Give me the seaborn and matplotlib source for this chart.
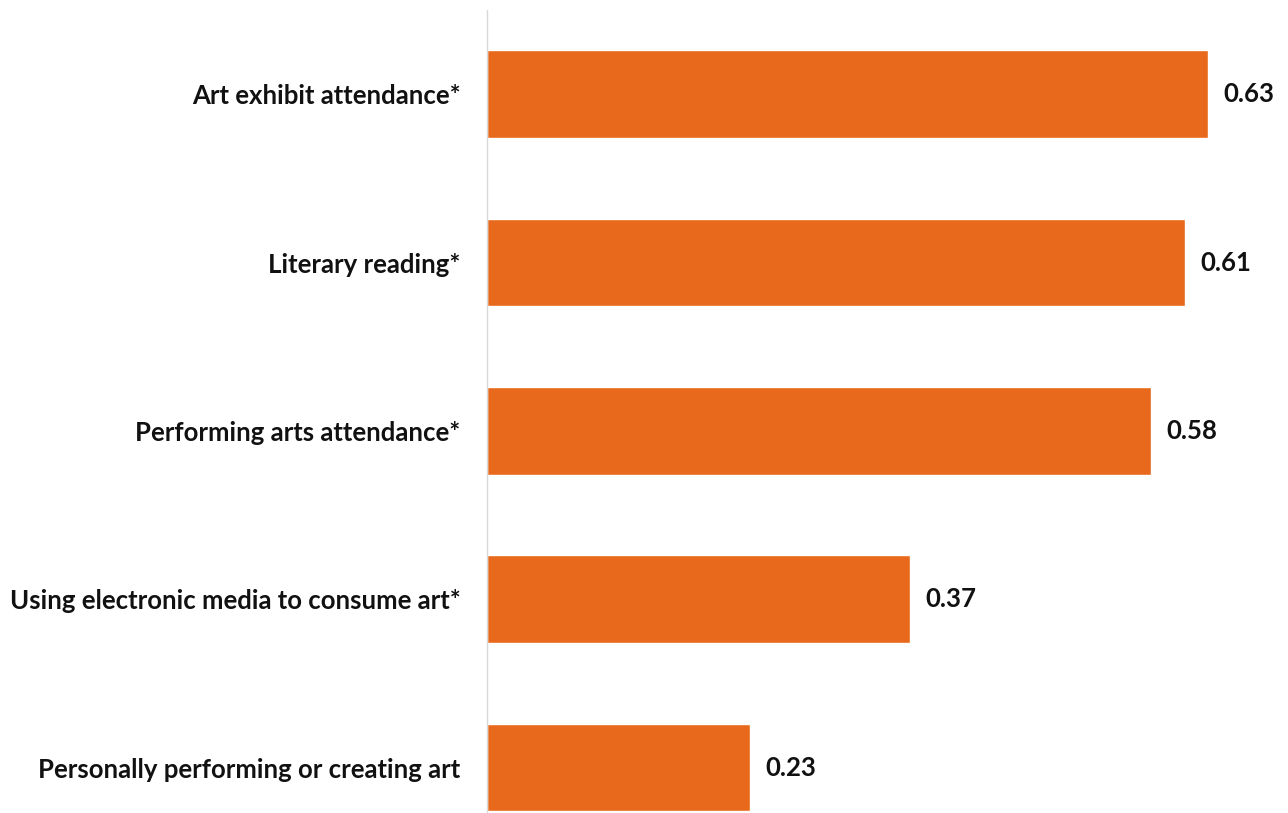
import matplotlib
matplotlib.use("Agg")
import matplotlib.pyplot as plt
import seaborn as sns
import pandas as pd

categories = [
    "Art exhibit attendance*",
    "Literary reading*",
    "Performing arts attendance*",
    "Using electronic media to consume art*",
    "Personally performing or creating art",
]
values = [0.63, 0.61, 0.58, 0.37, 0.23]
value_labels = ["0.63", "0.61", "0.58", "0.37", "0.23"]

sns.set_theme(style="white")
plt.rcParams["font.family"] = ["Lato", "DejaVu Sans"]

df = pd.DataFrame({"category": categories, "value": values})

fig = plt.figure(figsize=(12.88, 8.13), dpi=100)
ax = fig.add_axes([487 / 1288, 0.0, (1288 - 487) / 1288, 1 - 10 / 813])

sns.barplot(data=df, x="value", y="category", orient="h", color="#E8691B",
            saturation=1, width=0.52, ax=ax)

ax.set_xlim(0, 0.70)
ax.set_ylim(4.27, -0.5)
ax.set_xlabel("")
ax.set_ylabel("")
ax.set_xticks([])
for s in ["top", "right", "bottom"]:
    ax.spines[s].set_visible(False)
ax.spines["left"].set_color("#D9D9D9")
ax.spines["left"].set_linewidth(1.0)
ax.tick_params(axis="y", length=0, pad=19)
for lab in ax.get_yticklabels():
    lab.set_fontsize(18.5)
    lab.set_fontweight("bold")
    lab.set_color("#111111")

ax.bar_label(ax.containers[0], labels=value_labels, padding=11,
             fontsize=18.5, fontweight="bold", color="#111111")

fig.savefig("out.png", dpi=100, facecolor="white")
